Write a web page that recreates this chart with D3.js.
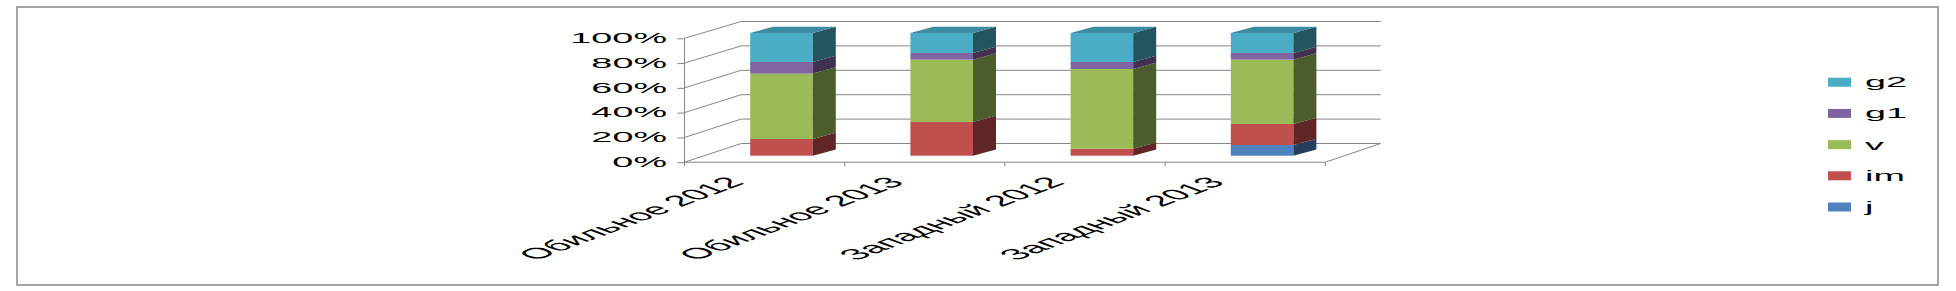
<!DOCTYPE html>
<html>
<head>
<meta charset="utf-8">
<script src="https://cdn.jsdelivr.net/npm/d3@7"></script>
<style>
  html, body { margin: 0; padding: 0; background: #fff; }
  svg { display: block; font-family: "Liberation Sans", Arial, sans-serif; }
</style>
</head>
<body>
<svg id="chart" width="1956" height="291"></svg>
<script>
'use strict';

// data (shares of each bar, in %)
const categories = ['Обильное 2012', 'Обильное 2013', 'Западный 2012', 'Западный 2013'];
const seriesNames = ['j', 'im', 'v', 'g1', 'g2'];   // bottom -> top
const j  = [0, 0, 0, 8.7];
const im = [13.6, 27.4, 5.7, 17.1];
const v  = [53.3, 50.8, 64.9, 52.4];
const g1 = [9.5, 5.4, 5.7, 5.4];
const g2 = [23.6, 16.3, 23.6, 16.3];
const yTicks = [0, 0.2, 0.4, 0.6, 0.8, 1];

const colors = { j: '#4F81BD', im: '#C0504D', v: '#9BBB59', g1: '#8064A2', g2: '#4BACC6' };
const GRID = '#868686';
const STRETCH = 2.7;   // the whole chart looks stretched sideways

const rows = categories.map(function(c, i) {
    return { cat: c, j: j[i], im: im[i], v: v[i], g1: g1[i], g2: g2[i] };
});
const stacked = d3.stack().keys(seriesNames).offset(d3.stackOffsetExpand)(rows);

const svg = d3.select('#chart');

// outer frame
svg.append('rect')
    .attr('x', 17).attr('y', 7)
    .attr('width', 1921).attr('height', 278)
    .attr('fill', '#fff')
    .attr('stroke', GRID)
    .attr('stroke-width', 1.5);

// front plane, back wall and bar face scales
const x = d3.scaleBand().domain(categories).range([684.5, 1325.3]);
const yFront = d3.scaleLinear().domain([0, 1]).range([162.2, 38.3]);
const yBack = d3.scaleLinear().domain([0, 1]).range([143.5, 21.5]);
const yBar = d3.scaleLinear().domain([0, 1]).range([155.7, 33]);
const backX0 = 741.2, backX1 = 1380.7;
const depthDx = 56.3;
const barOffset = 0.3 * depthDx;
const barW = 62.6;
const sideDx = 23, sideDy = -6.3;

const grid = svg.append('g')
    .attr('fill', 'none')
    .attr('stroke', GRID)
    .attr('stroke-width', 1);

// back wall gridlines
grid.selectAll('.back')
    .data(yTicks)
    .join('line')
    .attr('class', 'back')
    .attr('x1', backX0).attr('x2', backX1)
    .attr('y1', function(d) { return yBack(d); })
    .attr('y2', function(d) { return yBack(d); });

// side wall gridlines
grid.selectAll('.side')
    .data(yTicks)
    .join('line')
    .attr('class', 'side')
    .attr('x1', 684.5).attr('x2', backX0)
    .attr('y1', function(d) { return yFront(d); })
    .attr('y2', function(d) { return yBack(d); });

// floor right edge
grid.append('line')
    .attr('x1', 1325.3).attr('y1', yFront(0))
    .attr('x2', backX1).attr('y2', yBack(0));

// bars
const bars = svg.append('g');
stacked.forEach(function(layer, li) {
    const base = d3.rgb(colors[layer.key]);
    const side = base.darker(2);
    const top = base.darker(0.6);
    layer.forEach(function(d, i) {
        if (d[1] - d[0] <= 0) return;
        const cx = x(categories[i]) + x.bandwidth() / 2 + barOffset;
        const x0 = cx - barW / 2, x1 = cx + barW / 2;
        const yb = yBar(d[0]), yt = yBar(d[1]);
        bars.append('rect')
            .attr('x', x0).attr('y', yt)
            .attr('width', barW).attr('height', yb - yt)
            .attr('fill', base);
        bars.append('polygon')
            .attr('points', [[x1, yb], [x1, yt], [x1 + sideDx, yt + sideDy], [x1 + sideDx, yb + sideDy]].join(' '))
            .attr('fill', side);
        if (li === stacked.length - 1) {
            bars.append('polygon')
                .attr('points', [[x0, yt], [x1, yt], [x1 + sideDx, yt + sideDy], [x0 + sideDx, yt + sideDy]].join(' '))
                .attr('fill', top);
        }
    });
});

// front baseline and category ticks
const xAxis = svg.append('g')
    .attr('transform', 'translate(0,' + yFront(0) + ')');
xAxis.append('line')
    .attr('x1', 684.5).attr('x2', 1325.3)
    .attr('stroke', GRID);
xAxis.selectAll('.tick')
    .data(categories.map(function(c) { return x(c); }).concat([1325.3]))
    .join('line')
    .attr('class', 'tick')
    .attr('x1', function(d) { return d; }).attr('x2', function(d) { return d; })
    .attr('y1', 0).attr('y2', 4)
    .attr('stroke', GRID);

// category labels, rotated and stretched like the reference
xAxis.selectAll('.cat')
    .data(categories)
    .join('text')
    .attr('class', 'cat')
    .attr('transform', function(d) {
        return 'translate(' + (x(d) + x.bandwidth() / 2 - 19) + ',21) scale(' + STRETCH + ',1) rotate(-45)';
    })
    .attr('text-anchor', 'end')
    .attr('font-size', 15)
    .attr('textLength', 110)
    .attr('lengthAdjust', 'spacingAndGlyphs')
    .attr('fill', '#000')
    .text(function(d) { return d; });

// value axis
const yAxis = svg.append('g')
    .attr('transform', 'translate(684.5,0)')
    .call(d3.axisLeft(yFront).tickValues(yTicks).tickFormat(d3.format('.0%')).tickSize(7));
yAxis.select('.domain').attr('stroke', GRID).attr('d', 'M0,' + yFront(1) + 'V' + (yFront(0) + 3));
yAxis.selectAll('.tick line').attr('stroke', GRID);
yAxis.selectAll('.tick text')
    .attr('x', -17.5 / STRETCH)
    .attr('dy', '0.3em')
    .attr('transform', 'scale(' + STRETCH + ',1)')
    .attr('font-size', 14)
    .attr('font-family', '"Liberation Sans", Arial, sans-serif')
    .attr('fill', '#000');

// legend, top entry is the top series
const legend = svg.append('g')
    .selectAll('g')
    .data(seriesNames.slice().reverse())
    .join('g')
    .attr('transform', function(d, i) { return 'translate(1828,' + (82.2 + i * 31.2) + ')'; });
legend.append('rect')
    .attr('x', 0).attr('y', -4.5)
    .attr('width', 23).attr('height', 9)
    .attr('fill', function(d) { return colors[d]; });
legend.append('text')
    .attr('transform', 'translate(37,5) scale(' + STRETCH + ',1)')
    .attr('font-size', 14)
    .attr('fill', '#000')
    .text(function(d) { return d; });
</script>
</body>
</html>
